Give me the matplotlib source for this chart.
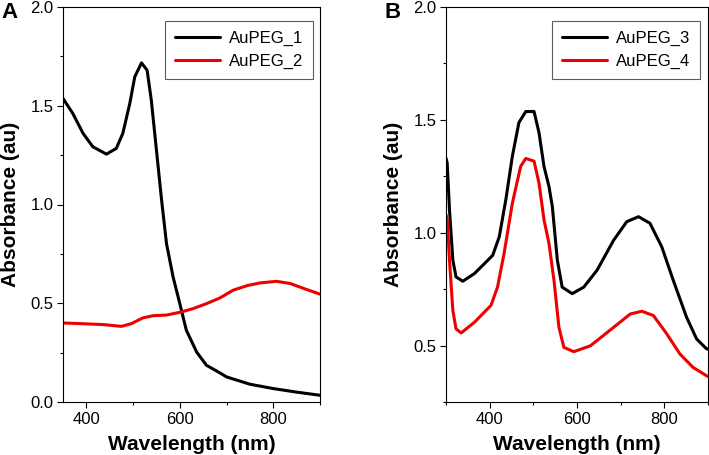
import matplotlib.pyplot as plt
from matplotlib.ticker import MultipleLocator

plt.rcParams['font.family'] = ['Liberation Sans', 'DejaVu Sans']

# panel A
wl_1 = [350, 371, 393, 414, 443, 464, 478, 493, 503.5, 518, 530, 539, 550, 561, 571.5, 585.6, 600, 614,
        636, 657, 686, 700, 750, 800, 850, 900]
abs_1 = [1.537, 1.461, 1.36, 1.292, 1.255, 1.284, 1.36, 1.512, 1.646, 1.717, 1.68, 1.528, 1.275, 1.022,
         0.802, 0.633, 0.498, 0.363, 0.253, 0.186, 0.147, 0.127, 0.09, 0.068, 0.05, 0.034]
wl_2 = [350, 386, 436, 475, 496.5, 521, 543, 571, 600, 628.6, 657, 686, 714, 745, 772, 807, 836, 871, 900]
abs_2 = [0.40, 0.397, 0.392, 0.383, 0.397, 0.426, 0.437, 0.44, 0.454, 0.473, 0.498, 0.527, 0.566, 0.59,
         0.603, 0.611, 0.60, 0.57, 0.546]

# panel B
wl_3 = [300, 302.7, 308, 315.7, 323, 338.5, 365, 388, 407, 422, 437, 452, 467, 482.7, 501.6, 513, 524.4,
        535.8, 543.5, 555, 566, 589, 615.5, 646, 684, 714, 741, 767, 794, 820.5, 851, 874, 897, 900]
abs_3 = [1.33, 1.309, 1.101, 0.878, 0.804, 0.785, 0.819, 0.863, 0.90, 0.982, 1.146, 1.339, 1.488, 1.537,
         1.537, 1.443, 1.294, 1.205, 1.116, 0.878, 0.759, 0.73, 0.759, 0.834, 0.967, 1.049, 1.071, 1.042,
         0.938, 0.789, 0.625, 0.529, 0.485, 0.485]
wl_4 = [300, 302.7, 308, 315.7, 323, 334.7, 365, 403, 418, 433, 452, 471, 482.7, 501.6, 513, 524.4, 535.8,
        547.3, 558.6, 570, 592.7, 630.7, 684, 722, 748.5, 775, 805.5, 836, 866, 897, 900]
abs_4 = [1.08, 1.064, 0.878, 0.655, 0.574, 0.556, 0.603, 0.678, 0.759, 0.908, 1.131, 1.294, 1.329, 1.317,
         1.22, 1.057, 0.953, 0.789, 0.581, 0.492, 0.473, 0.499, 0.581, 0.64, 0.652, 0.633, 0.552, 0.462,
         0.403, 0.366, 0.363]

W, H = 709, 455
fig = plt.figure(figsize=(W / 100, H / 100), dpi=100)
axA = fig.add_axes([63 / W, 53 / H, 257 / W, 395 / H])
axB = fig.add_axes([446 / W, 53 / H, 262 / W, 395 / H])


def style(ax, xlim, ylim, ylab_x):
    ax.set_xlim(*xlim)
    ax.set_ylim(*ylim)
    ax.xaxis.set_major_locator(MultipleLocator(200))
    ax.xaxis.set_minor_locator(MultipleLocator(100))
    ax.yaxis.set_major_locator(MultipleLocator(0.5))
    ax.yaxis.set_minor_locator(MultipleLocator(0.25))
    ax.yaxis.set_major_formatter(plt.FormatStrFormatter('%.1f'))
    ax.tick_params(which='major', direction='out', length=4, width=0.8, labelsize=12, pad=3)
    ax.tick_params(which='minor', direction='out', length=2.5, width=0.8)
    for s in ax.spines.values():
        s.set_linewidth(0.8)
    ax.set_xlabel('Wavelength (nm)', fontsize=15, fontweight='bold')
    ax.set_ylabel('Absorbance (au)', fontsize=15, fontweight='bold')
    ax.xaxis.set_label_coords(0.5, -0.083)
    ax.yaxis.set_label_coords(ylab_x, 0.5)


kw = dict(lw=2.2, solid_joinstyle='round', solid_capstyle='round')
axA.plot(wl_1, abs_1, color='black', label='AuPEG_1', **kw)
axA.plot(wl_2, abs_2, color='#ee0000', label='AuPEG_2', **kw)
style(axA, (350, 900), (0, 2.0), -0.167)

axB.plot(wl_3, abs_3, color='black', label='AuPEG_3', **kw)
axB.plot(wl_4, abs_4, color='#ee0000', label='AuPEG_4', **kw)
style(axB, (300, 900), (0.25, 2.0), -0.164)

for ax, x in [(axA, 0.973), (axB, 0.969)]:
    leg = ax.legend(loc='upper right', bbox_to_anchor=(x, 0.965), borderaxespad=0,
                    fontsize=12, fancybox=False, edgecolor='#333333', handlelength=2.7,
                    handletextpad=0.5, borderpad=0.6, labelspacing=0.45)
    leg.get_frame().set_linewidth(0.8)

fig.text(10 / W, 1 - 13 / H, 'A', fontsize=16, fontweight='bold', ha='center', va='center')
fig.text(393 / W, 1 - 13 / H, 'B', fontsize=16, fontweight='bold', ha='center', va='center')

fig.savefig('out.png', dpi=100)
